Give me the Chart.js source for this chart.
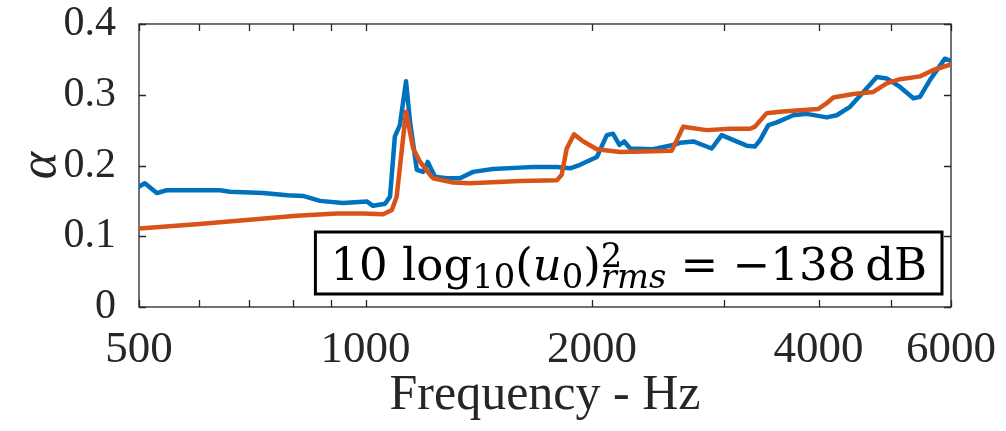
<!DOCTYPE html>
<html>
<head>
<meta charset="utf-8">
<title>Absorption coefficient</title>
<script src="https://cdn.jsdelivr.net/npm/chart.js"></script>
<style>
  html, body { margin: 0; padding: 0; background: #fff; }
  #wrap { width: 1006px; height: 431px; }
</style>
</head>
<body>
<div id="wrap"><canvas id="chart" width="1006" height="431"></canvas></div>
<script>
// measured absorption, blue trace
const blueFreq = [500, 509, 528, 544, 641, 660, 731, 787, 826, 870, 933, 1005, 1023, 1062, 1078, 1094, 1111, 1132, 1146, 1170, 1193, 1210, 1237, 1282, 1335, 1390, 1477, 1605, 1670, 1796, 1870, 1928, 2030, 2093, 2132, 2175, 2207, 2248, 2411, 2563, 2618, 2727, 2885, 2974, 3067, 3211, 3294, 3345, 3431, 3520, 3703, 3858, 4102, 4229, 4405, 4589, 4781, 4928, 5133, 5347, 5457, 5627, 5890, 6000];
const blueAlpha = [0.170, 0.175, 0.161, 0.165, 0.165, 0.163, 0.161, 0.158, 0.157, 0.150, 0.147, 0.149, 0.143, 0.146, 0.156, 0.241, 0.257, 0.319, 0.262, 0.194, 0.191, 0.205, 0.184, 0.182, 0.182, 0.191, 0.195, 0.197, 0.198, 0.198, 0.196, 0.201, 0.212, 0.243, 0.245, 0.229, 0.234, 0.224, 0.223, 0.229, 0.232, 0.234, 0.224, 0.243, 0.237, 0.228, 0.227, 0.236, 0.257, 0.261, 0.271, 0.273, 0.268, 0.271, 0.283, 0.304, 0.325, 0.323, 0.311, 0.295, 0.297, 0.321, 0.351, 0.348];

// model prediction, orange trace
const redFreq = [500, 596, 695, 810, 916, 993, 1055, 1084, 1100, 1132, 1157, 1182, 1218, 1230, 1307, 1377, 1605, 1796, 1823, 1851, 1893, 1948, 2030, 2180, 2411, 2553, 2645, 2672, 2841, 3051, 3244, 3294, 3414, 3555, 3780, 3998, 4102, 4186, 4450, 4731, 4928, 5133, 5457, 5684, 6000];
const redAlpha = [0.111, 0.117, 0.123, 0.129, 0.132, 0.132, 0.131, 0.137, 0.156, 0.276, 0.224, 0.205, 0.187, 0.182, 0.176, 0.175, 0.178, 0.179, 0.187, 0.224, 0.244, 0.234, 0.223, 0.219, 0.220, 0.221, 0.255, 0.254, 0.250, 0.252, 0.252, 0.255, 0.274, 0.276, 0.278, 0.280, 0.288, 0.296, 0.301, 0.304, 0.316, 0.322, 0.326, 0.335, 0.343];

const xTicks = [500, 1000, 2000, 4000, 6000];
const xMinorTicks = [600, 700, 800, 900, 3000, 5000];
const yTicks = [0, 0.1, 0.2, 0.3, 0.4];

const axisColor = '#262626';
const serif = '"Liberation Serif", "Times New Roman", serif';

// MATLAB-style box with inward ticks on all four sides
const boxAxes = {
  id: 'boxAxes',
  beforeDatasetsDraw(chart) {
    const { ctx, chartArea: a, scales: { x, y } } = chart;
    const len = 7;
    ctx.save();
    ctx.strokeStyle = axisColor;
    ctx.lineWidth = 1.3;
    ctx.strokeRect(a.left, a.top, a.right - a.left, a.bottom - a.top);
    ctx.beginPath();
    xTicks.concat(xMinorTicks).forEach(v => {
      const px = Math.round(x.getPixelForValue(v)) + 0.5;
      ctx.moveTo(px, a.bottom); ctx.lineTo(px, a.bottom - len);
      ctx.moveTo(px, a.top); ctx.lineTo(px, a.top + len);
    });
    yTicks.forEach(v => {
      const py = Math.round(y.getPixelForValue(v)) + 0.5;
      ctx.moveTo(a.left, py); ctx.lineTo(a.left + len, py);
      ctx.moveTo(a.right, py); ctx.lineTo(a.right - len, py);
    });
    ctx.stroke();
    ctx.restore();
  }
};

// boxed level annotation in the lower right corner
const levelNote = {
  id: 'levelNote',
  afterDraw(chart) {
    const { ctx, chartArea: a } = chart;
    const size = 45;
    const math = '"DejaVu Serif", serif';
    const up = s => `${s}px ${math}`;
    const it = s => `italic ${s}px ${math}`;
    const sub = 0.75;
    // pieces: text, font, baseline shift, stack (share x with previous)
    const parts = [
      { t: '10 log', f: up(size), dy: 0 },
      { t: '10', f: up(size * sub), dy: 8 },
      { t: '(', f: up(size), dy: 0 },
      { t: 'u', f: it(size), dy: 0 },
      { t: '0', f: up(size * sub), dy: 8 },
      { t: ')', f: up(size), dy: 0 },
      { t: '2', f: up(size * sub), dy: -13 },
      { t: 'rms', f: it(size * sub), dy: 8, stack: true },
      { t: ' = \u2212138\u2009dB', f: up(size), dy: 0 }
    ];
    ctx.save();
    let total = 0, prevStart = 0;
    parts.forEach(p => {
      ctx.font = p.f;
      p.w = ctx.measureText(p.t).width;
      if (p.stack) {
        p.x = prevStart;
        total = Math.max(total, prevStart + p.w);
      } else {
        p.x = total;
        total += p.w;
      }
      prevStart = p.x;
    });
    const padX = 15;
    const boxW = total + padX * 2;
    const boxH = 62;
    const right = a.right - 9;
    const bottom = a.bottom - 13;
    const left = right - boxW;
    const top = bottom - boxH;
    ctx.fillStyle = '#fff';
    ctx.fillRect(left, top, boxW, boxH);
    ctx.strokeStyle = '#000';
    ctx.lineWidth = 3;
    ctx.strokeRect(left, top, boxW, boxH);
    ctx.fillStyle = '#000';
    ctx.textBaseline = 'alphabetic';
    ctx.textAlign = 'left';
    const base = top + 48;
    parts.forEach(p => {
      ctx.font = p.f;
      ctx.fillText(p.t, left + padX + p.x, base + p.dy);
    });
    ctx.restore();
  }
};

const ctx = document.getElementById('chart');

new Chart(ctx, {
  type: 'line',
  data: {
    datasets: [
      {
        label: 'measured',
        data: blueFreq.map((f, i) => ({ x: f, y: blueAlpha[i] })),
        borderColor: '#0072BD',
        borderWidth: 4.5,
        borderJoinStyle: 'round',
        borderCapStyle: 'round',
        pointRadius: 0,
        tension: 0,
        order: 2
      },
      {
        label: 'model',
        data: redFreq.map((f, i) => ({ x: f, y: redAlpha[i] })),
        borderColor: '#D95319',
        borderWidth: 4.5,
        borderJoinStyle: 'round',
        borderCapStyle: 'round',
        pointRadius: 0,
        tension: 0,
        order: 1
      }
    ]
  },
  options: {
    responsive: false,
    animation: false,
    layout: { padding: { top: 24, right: 55, left: 0, bottom: 0 } },
    plugins: {
      legend: { display: false },
      tooltip: { enabled: false }
    },
    scales: {
      x: {
        type: 'logarithmic',
        min: 500,
        max: 6000,
        afterBuildTicks: s => { s.ticks = xTicks.map(v => ({ value: v })); },
        afterFit: s => {
          s.height = 124;
          s.paddingLeft = 0;
          s.paddingRight = 0;
        },
        grid: { display: false },
        border: { display: false },
        ticks: {
          autoSkip: false,
          maxRotation: 0,
          padding: 10,
          color: axisColor,
          font: { family: serif, size: 45, lineHeight: 1.1 },
          callback: v => String(v)
        },
        title: {
          display: true,
          text: 'Frequency - Hz',
          color: axisColor,
          font: { family: serif, size: 50, lineHeight: 1.2 },
          padding: { top: 0, bottom: 5 }
        }
      },
      y: {
        min: 0,
        max: 0.4,
        afterBuildTicks: s => { s.ticks = yTicks.map(v => ({ value: v })); },
        afterFit: s => {
          s.width = 139;
          s.paddingTop = 0;
          s.paddingBottom = 0;
        },
        grid: { display: false },
        border: { display: false },
        ticks: {
          padding: 15,
          color: axisColor,
          font: { family: serif, size: 42, lineHeight: 1.1 },
          callback: v => String(v)
        },
        title: {
          display: true,
          text: 'α',
          color: axisColor,
          font: { family: serif, size: 52, style: 'italic', lineHeight: 1.2 },
          padding: { top: 10, bottom: 0 }
        }
      }
    }
  },
  plugins: [boxAxes, levelNote]
});
</script>
</body>
</html>
